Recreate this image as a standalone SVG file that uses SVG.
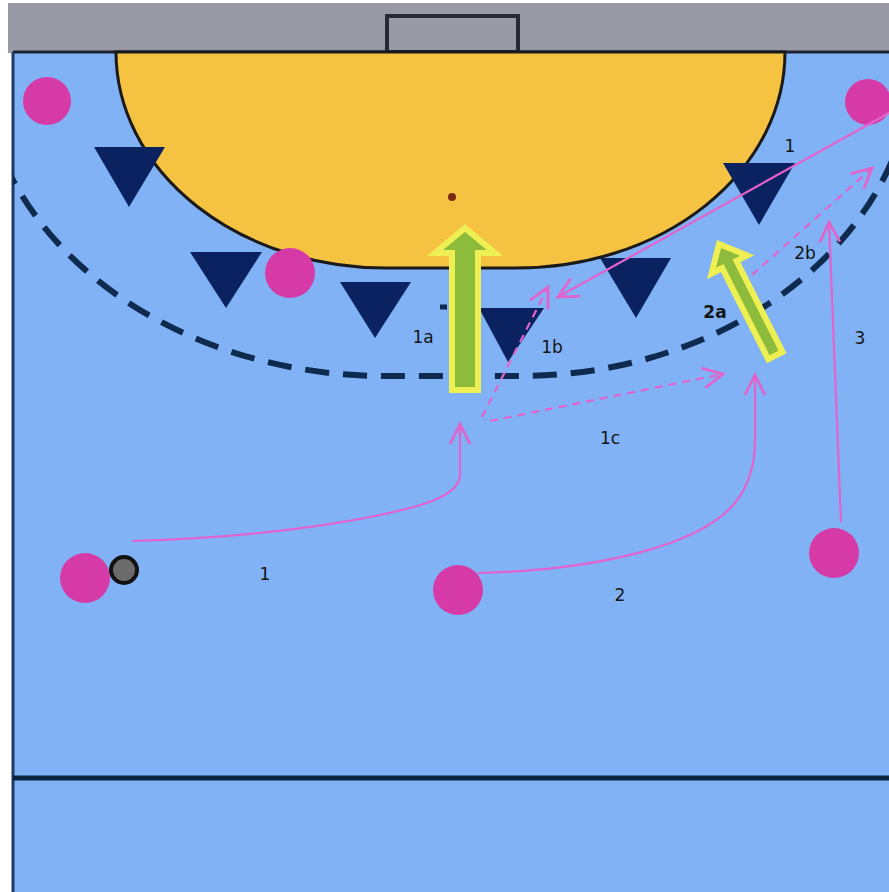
<svg xmlns="http://www.w3.org/2000/svg" width="889" height="892" viewBox="0 0 889 892">
<style>
.player{fill:#d63aa6}
.def{fill:#0b2260}
.move{fill:#8dbb3c;stroke:#eeef52;stroke-width:6;stroke-linejoin:miter}
.run{fill:none;stroke:#e263cc;stroke-width:2.2}
.pass{fill:none;stroke:#e263cc;stroke-width:2.2;stroke-dasharray:8 6}
.lbl{font-family:"DejaVu Sans",Verdana,sans-serif;font-size:17px;fill:#141414;text-anchor:middle}
</style>
<defs>
<clipPath id="fieldClip"><rect x="13" y="52" width="876" height="840"/></clipPath>
<marker id="head" markerUnits="userSpaceOnUse" markerWidth="30" markerHeight="30" refX="0" refY="0" viewBox="-20 -12 24 24" orient="auto" overflow="visible">
<path d="M-16,-8 L0,0 L-16,8" fill="none" stroke="#e263cc" stroke-width="2.2" stroke-dasharray="none"/>
</marker>
</defs>
<rect width="889" height="892" fill="#ffffff"/>
<g id="court">
<rect x="8" y="3" width="881" height="50" fill="#9a9aa7"/>
<rect x="13" y="52" width="876" height="840" fill="#80b2f5"/>
<rect x="387" y="16" width="131" height="36" fill="none" stroke="#252a36" stroke-width="4"/>
<line x1="13" y1="52" x2="889" y2="52" stroke="#1d2330" stroke-width="3"/>
<line x1="13" y1="52" x2="13" y2="892" stroke="#1c3a66" stroke-width="3"/>
<line x1="13" y1="778" x2="889" y2="778" stroke="#0d2240" stroke-width="5"/>
<path d="M116,52 A270,216 0 0 0 392,268 L515,268 A268,216 0 0 0 785,52 Z" fill="#f5c242" stroke="#1a1a1a" stroke-width="3"/>
<circle cx="452" cy="197" r="4" fill="#7a2a10"/>
<g clip-path="url(#fieldClip)">
<path d="M-20,52 A405,324 0 0 0 385,376 L520,376 A395,324 0 0 0 915,52" fill="none" stroke="#0f2a4f" stroke-width="6" stroke-dasharray="24 14"/>
</g>
<line x1="440" y1="307" x2="447" y2="307" stroke="#0f2a4f" stroke-width="5"/>
</g>
<g id="defenders">
<polygon id="d1" class="def" points="94,147 165,147 129,207"/>
<polygon id="d2" class="def" points="190,252 262,252 226,308"/>
<polygon id="d3" class="def" points="340,282 411,282 375,338"/>
<polygon id="d4" class="def" points="479,308 544,308 508,362"/>
<polygon id="d5" class="def" points="600,258 671,258 636,318"/>
<polygon id="d6" class="def" points="723,163 795,163 759,225"/>
</g>
<g id="attackers">
<circle id="a1" class="player" cx="47" cy="101" r="24"/>
<circle id="a2" class="player" cx="868" cy="102" r="23"/>
<circle id="a3" class="player" cx="290" cy="273" r="25"/>
<circle id="a4" class="player" cx="85" cy="578" r="25"/>
<circle id="a5" class="player" cx="458" cy="590" r="25"/>
<circle id="a6" class="player" cx="834" cy="553" r="25"/>
</g>
<g id="ball"><circle cx="124" cy="570" r="13" fill="#6b6b6b" stroke="#111" stroke-width="4"/></g>
<g id="move1a"><polygon class="move" transform="translate(465,228)" points="0,0 30,25 13,25 13,162 -13,162 -13,25 -30,25"/></g>
<g id="move2a"><polygon class="move" transform="translate(719,244) rotate(-26.8)" points="0,0 20,23 8,23 8,125 -8,125 -8,23 -20,23"/></g>
<g id="connectors">
<path class="run" d="M132,541 C240,538 340,526 410,508 Q460,495 460,475 L460,424" marker-end="url(#head)"/>
<path class="run" d="M478,573 C600,570 700,545 735,503 Q755,478 755,440 L755,375" marker-end="url(#head)"/>
<path class="run" d="M841,522 L829,222" marker-end="url(#head)"/>
<path class="run" d="M889,113 L558,297" marker-end="url(#head)"/>
<path class="pass" d="M482,417 L548,287" marker-end="url(#head)"/>
<path class="pass" d="M490,421 L723,374" marker-end="url(#head)"/>
<path class="pass" d="M752,275 L872,168" marker-end="url(#head)"/>
</g>
<g id="labels">
<text class="lbl" x="790" y="152">1</text>
<text class="lbl" x="805" y="259">2b</text>
<text class="lbl" x="715" y="318" font-weight="bold">2a</text>
<text class="lbl" x="860" y="344">3</text>
<text class="lbl" x="423" y="343">1a</text>
<text class="lbl" x="552" y="353">1b</text>
<text class="lbl" x="610" y="444">1c</text>
<text class="lbl" x="265" y="580">1</text>
<text class="lbl" x="620" y="601">2</text>
</g>
</svg>
